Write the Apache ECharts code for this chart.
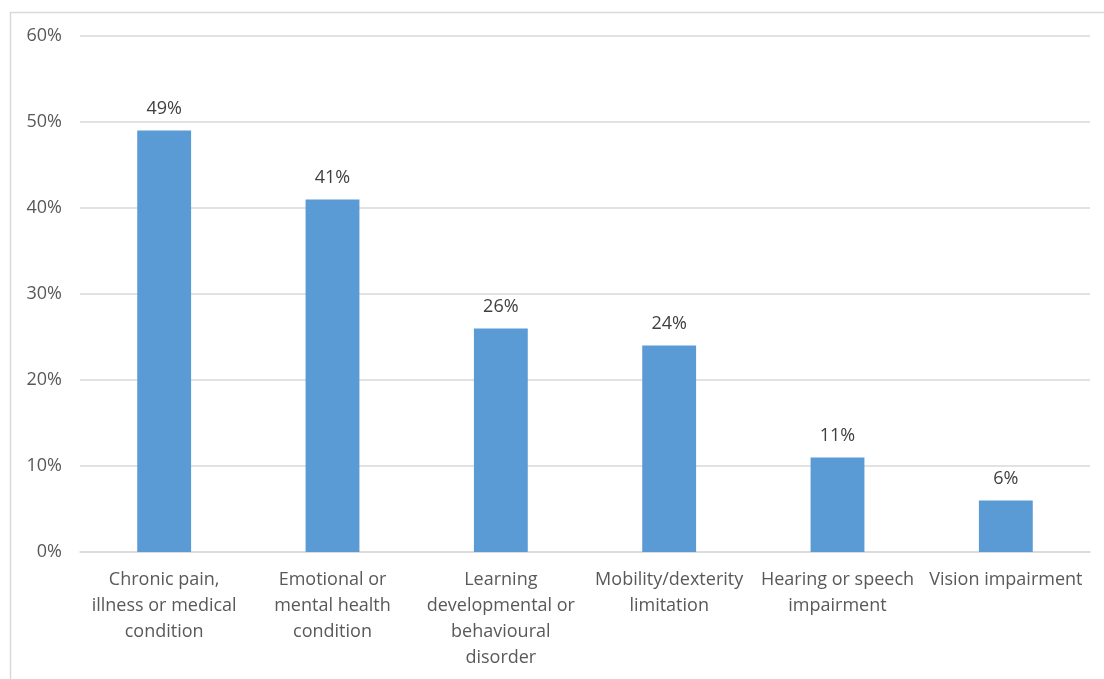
<!DOCTYPE html>
<html><head><meta charset="utf-8">
<script src="https://cdn.jsdelivr.net/npm/echarts@6/dist/echarts.min.js"></script>
<style>html,body{margin:0;padding:0;background:#fff}#c{width:1104px;height:679px}</style>
</head><body><div id="c"></div>
<script>
const categories = [
  "Chronic pain,\nillness or medical\ncondition",
  "Emotional or\nmental health\ncondition",
  "Learning\ndevelopmental or\nbehavioural\ndisorder",
  "Mobility/dexterity\nlimitation",
  "Hearing or speech\nimpairment",
  "Vision impairment"
];
const values = [49, 41, 26, 24, 11, 6];
const yTicks = [0, 10, 20, 30, 40, 50, 60];

const chart = echarts.init(document.getElementById('c'));
const font = "'Open Sans', 'Noto Sans', sans-serif";
chart.setOption({
  animation: false,
  textStyle: { fontFamily: font },
  graphic: [{
    type: 'rect', left: 8, top: 10,
    shape: { width: 1110, height: 700 },
    style: { fill: 'none', stroke: '#d9d9d9', lineWidth: 1.5 },
    silent: true
  }],
  grid: { left: 80, right: 14, top: 36, bottom: 127, containLabel: false },
  xAxis: {
    type: 'category',
    data: categories,
    axisLine: { lineStyle: { color: '#d9d9d9', width: 1.5 } },
    axisTick: { show: false },
    axisLabel: { color: '#595959', fontSize: 18, lineHeight: 26, interval: 0, margin: 15, fontFamily: font }
  },
  yAxis: {
    type: 'value', min: yTicks[0], max: yTicks[yTicks.length - 1], interval: 10,
    axisLine: { show: false }, axisTick: { show: false },
    splitLine: { lineStyle: { color: '#d9d9d9', width: 1.5 } },
    axisLabel: { color: '#595959', fontSize: 18, margin: 18, formatter: v => v + '%', fontFamily: font }
  },
  series: [{
    type: 'bar',
    data: values,
    barWidth: '32%',
    itemStyle: { color: '#5b9bd5' },
    label: { show: true, position: 'top', distance: 13, color: '#404040', fontSize: 18, formatter: p => p.value + '%', fontFamily: font }
  }]
});
</script></body></html>
